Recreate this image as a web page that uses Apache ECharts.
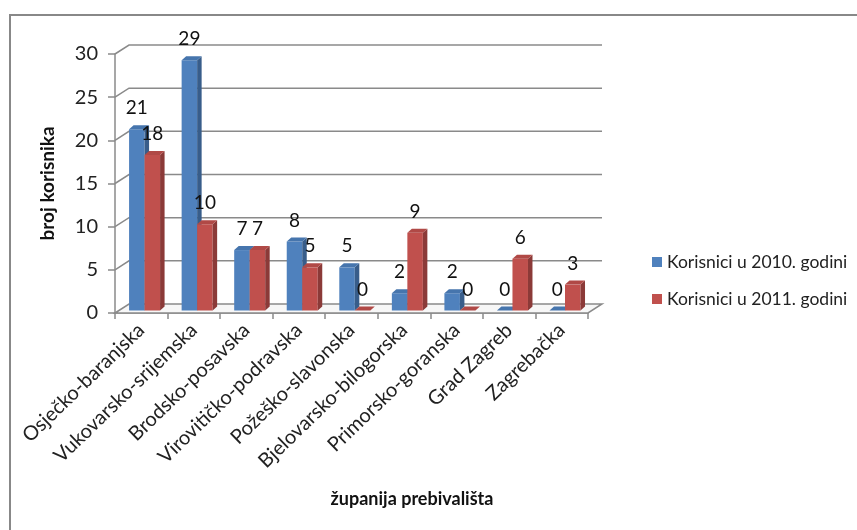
<!DOCTYPE html>
<html><head><meta charset="utf-8">
<script src="https://cdn.jsdelivr.net/npm/echarts@6/dist/echarts.min.js"></script>
<style>html,body{margin:0;padding:0;background:#fff}#c{width:857px;height:530px}</style>
</head><body><div id="c"></div>
<script>
const categories = ['Osječko-baranjska','Vukovarsko-srijemska','Brodsko-posavska','Virovitičko-podravska','Požeško-slavonska','Bjelovarsko-bilogorska','Primorsko-goranska','Grad Zagreb','Zagrebačka'];
const series2010 = [21,29,7,8,5,2,2,0,0];
const series2011 = [18,10,7,5,0,9,0,6,3];
const seriesNames = ['Korisnici u 2010. godini','Korisnici u 2011. godini'];
const yTicks = [0,5,10,15,20,25,30];
const xTitle = 'županija prebivališta';
const yTitle = 'broj korisnika';

const FONT = 'Lato, "Open Sans", sans-serif';
const GRID_COLOR = '#8a8a8a';
const WALL_DX = 14, WALL_DY = -9;

function barRenderer(slot, front, side, topc){
  return function(params, api){
    const idx = api.value(0), val = api.value(1);
    const base = api.coord([idx, 0]);
    const top = api.coord([idx, val]);
    const band = api.size([1, 0])[0];
    const w = band * 0.295;
    const sx = 3.3, sy = -2.5, dx = 4.5, dy = -4;
    const x0 = base[0] + sx + (slot === 0 ? -w : 0);
    const x1 = x0 + w;
    const yb = base[1] + sy, yt = top[1] + sy;
    const children = [];
    if (yb - yt > 0.1) {
      children.push({type:'rect', shape:{x:x0, y:yt, width:w, height:yb-yt}, style:{fill:front}});
      children.push({type:'polygon', shape:{points:[[x1,yt],[x1+dx,yt+dy],[x1+dx,yb+dy],[x1,yb]]}, style:{fill:side}});
    }
    children.push({type:'polygon', shape:{points:[[x0,yt],[x0+dx,yt+dy],[x1+dx,yt+dy],[x1,yt]]}, style:{fill:topc}});
    children.push({type:'text', z2:100, style:{text:String(val), x:(x0+x1)/2, y:yt-21, align:'center', verticalAlign:'middle', font:'19px ' + FONT, fill:'#111'}});
    return {type:'group', children};
  };
}

function gridRenderer(params, api){
  const v = api.value(1);
  const band = api.size([1, 0])[0];
  const l = api.coord([0, v]);
  const r = api.coord([categories.length - 1, v]);
  const xl = l[0] - band/2, xr = r[0] + band/2, y = l[1];
  const children = [];
  if (v === 0) {
    children.push({type:'polygon', shape:{points:[[xl,y],[xl+WALL_DX,y+WALL_DY],[xr+WALL_DX,y+WALL_DY],[xr,y]]}, style:{fill:'#f7f7f7', stroke:GRID_COLOR, lineWidth:1.5}});
  } else {
    children.push({type:'polyline', shape:{points:[[xl,y],[xl+WALL_DX,y+WALL_DY],[xr+WALL_DX,y+WALL_DY]]}, style:{fill:null, stroke:GRID_COLOR, lineWidth:1.5}});
  }
  return {type:'group', children};
}

const chart = echarts.init(document.getElementById('c'));
chart.setOption({
  backgroundColor:'#fff',
  animation:false,
  grid:{left:115, top:54, width:473, height:259, containLabel:false},
  legend:{
    orient:'vertical', left:647, top:248, itemWidth:10, itemHeight:10, itemGap:19, icon:'rect',
    textStyle:{fontFamily:FONT, fontSize:17.5, color:'#222'},
    data:seriesNames
  },
  xAxis:{
    type:'category', data:categories,
    axisLine:{show:true, lineStyle:{color:GRID_COLOR, width:1.5}},
    axisTick:{show:true, length:6, lineStyle:{color:GRID_COLOR, width:1.5}},
    axisLabel:{rotate:44, fontFamily:FONT, fontSize:20, color:'#222', margin:14, interval:0},
    splitLine:{show:false}
  },
  yAxis:{
    type:'value', min:0, max:30, interval:5,
    name:yTitle, nameLocation:'middle', nameGap:58, nameRotate:90,
    nameTextStyle:{fontFamily:FONT, fontSize:19, fontWeight:'bold', color:'#111'},
    axisLine:{show:true, lineStyle:{color:GRID_COLOR, width:1.5}},
    axisTick:{show:true, length:7, lineStyle:{color:GRID_COLOR, width:1.5}},
    axisLabel:{fontFamily:FONT, fontSize:20, color:'#222', margin:17},
    splitLine:{show:false}
  },
  graphic:[
    {type:'rect', shape:{x:10, y:15, width:900, height:600}, style:{fill:null, stroke:'#888', lineWidth:2}, z:-1},
    {type:'text', x:412, y:499, style:{text:xTitle, align:'center', verticalAlign:'middle', font:'bold 18px ' + FONT, fill:'#111'}}
  ],
  series:[
    {type:'custom', name:'grid', z:1, silent:true, renderItem:gridRenderer, encode:{x:0, y:1},
     data:yTicks.map(v => [0, v])},
    {type:'custom', name:seriesNames[0], z:2, renderItem:barRenderer(0,'#4F81BD','#385D8A','#4675AD'),
     itemStyle:{color:'#4F81BD'}, encode:{x:0, y:1},
     data:series2010.map((v, i) => [i, v])},
    {type:'custom', name:seriesNames[1], z:3, renderItem:barRenderer(1,'#C0504D','#8B3A38','#B04946'),
     itemStyle:{color:'#C0504D'}, encode:{x:0, y:1},
     data:series2011.map((v, i) => [i, v])}
  ]
});
</script></body></html>
